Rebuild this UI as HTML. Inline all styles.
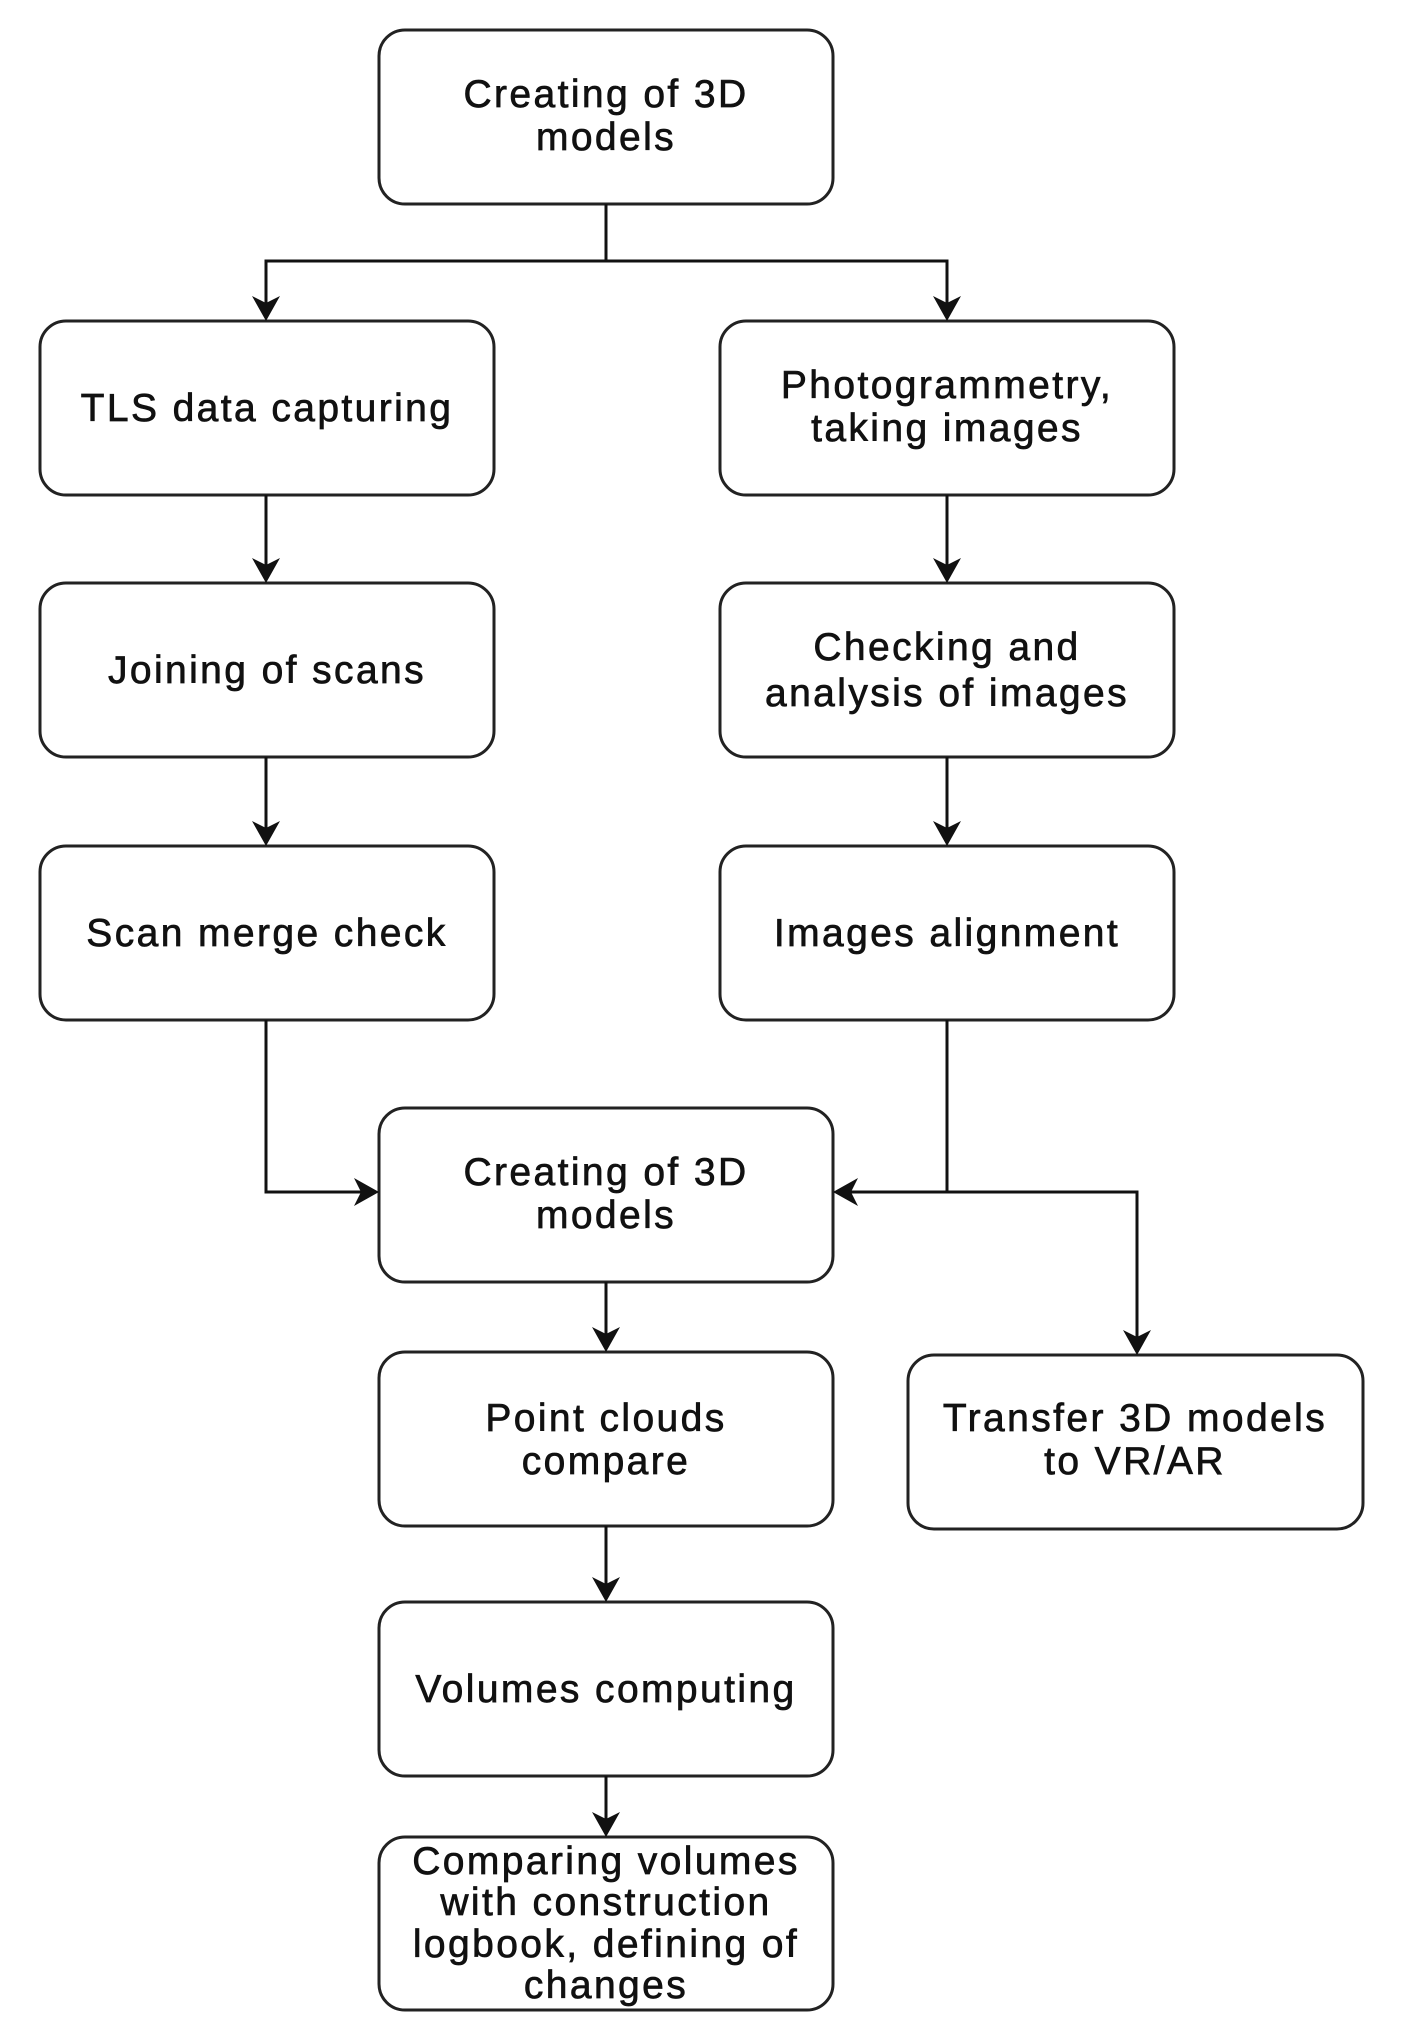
<!DOCTYPE html>
<html><head><meta charset="utf-8"><style>
html,body{margin:0;padding:0;background:#fff}
svg{display:block}
text{font-family:"Liberation Sans",Arial,sans-serif;font-size:39px;letter-spacing:2.4px;fill:#111;stroke:#111;stroke-width:0.7px;text-anchor:middle}
</style></head><body>
<svg width="1403" height="2043" viewBox="0 0 1403 2043" xmlns="http://www.w3.org/2000/svg">
<g fill="#fff" stroke="#222" stroke-width="3">
<rect x="379" y="30" width="454" height="174" rx="26"/>
<rect x="40" y="321" width="454" height="174" rx="26"/>
<rect x="720" y="321" width="454" height="174" rx="26"/>
<rect x="40" y="583" width="454" height="174" rx="26"/>
<rect x="720" y="583" width="454" height="174" rx="26"/>
<rect x="40" y="846" width="454" height="174" rx="26"/>
<rect x="720" y="846" width="454" height="174" rx="26"/>
<rect x="379" y="1108" width="454" height="174" rx="26"/>
<rect x="379" y="1352" width="454" height="174" rx="26"/>
<rect x="908" y="1355" width="455" height="174" rx="26"/>
<rect x="379" y="1602" width="454" height="174" rx="26"/>
<rect x="379" y="1837" width="454" height="173" rx="26"/>
</g>
<g fill="none" stroke="#111" stroke-width="3">
<path d="M606 204 V261 H266 V318"/>
<path d="M606 261 H947 V318"/>
<path d="M266 495 V580"/><path d="M947 495 V580"/>
<path d="M266 757 V843"/><path d="M947 757 V843"/>
<path d="M266 1020 V1192 H376"/>
<path d="M947 1020 V1192 H836"/>
<path d="M947 1192 H1137 V1352"/>
<path d="M606 1282 V1349"/>
<path d="M606 1526 V1599"/>
<path d="M606 1776 V1834"/>
</g>
<g fill="#111">
<path d="M252 296 L266 321 L280 296 L266 303 z"/>
<path d="M933 296 L947 321 L961 296 L947 303 z"/>
<path d="M252 558 L266 583 L280 558 L266 565 z"/>
<path d="M933 558 L947 583 L961 558 L947 565 z"/>
<path d="M252 821 L266 846 L280 821 L266 828 z"/>
<path d="M933 821 L947 846 L961 821 L947 828 z"/>
<path d="M354 1178 L379 1192 L354 1206 L361 1192 z"/>
<path d="M858 1178 L833 1192 L858 1206 L851 1192 z"/>
<path d="M1123 1330 L1137 1355 L1151 1330 L1137 1337 z"/>
<path d="M592 1327 L606 1352 L620 1327 L606 1334 z"/>
<path d="M592 1577 L606 1602 L620 1577 L606 1584 z"/>
<path d="M592 1812 L606 1837 L620 1812 L606 1819 z"/>
</g>
<text x="606" y="107">Creating of 3D</text><text x="606" y="150">models</text>
<text x="267" y="421">TLS data capturing</text>
<text x="947" y="398">Photogrammetry,</text><text x="947" y="441">taking images</text>
<text x="267" y="683">Joining of scans</text>
<text x="947" y="660">Checking and</text><text x="947" y="706">analysis of images</text>
<text x="267" y="946">Scan merge check</text>
<text x="947" y="946">Images alignment</text>
<text x="606" y="1185">Creating of 3D</text><text x="606" y="1228">models</text>
<text x="606" y="1431">Point clouds</text><text x="606" y="1474">compare</text>
<text x="1135" y="1431">Transfer 3D models</text><text x="1135" y="1474">to VR/AR</text>
<text x="606" y="1702">Volumes computing</text>
<text x="606" y="1874">Comparing volumes</text>
<text x="606" y="1915">with construction</text>
<text x="606" y="1957">logbook, defining of</text>
<text x="606" y="1998">changes</text>
</svg>
</body></html>
